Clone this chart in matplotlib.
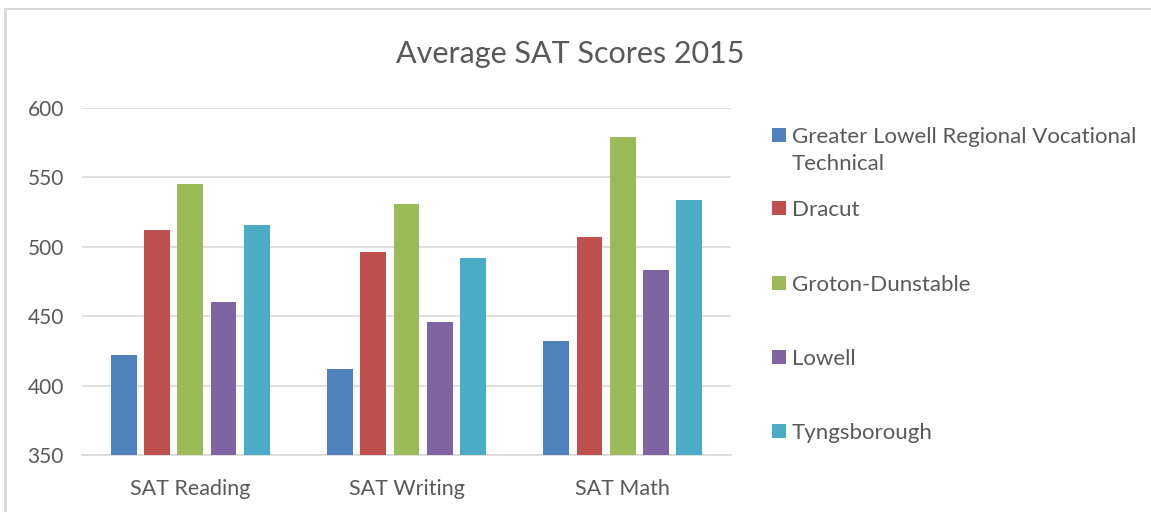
import matplotlib.pyplot as plt
import numpy as np
from matplotlib.lines import Line2D
from matplotlib.patches import Rectangle

plt.rcParams["font.family"] = ["Lato", "DejaVu Sans"]

subjects = ["SAT Reading", "SAT Writing", "SAT Math"]
schools = [
    "Greater Lowell Regional Vocational\nTechnical",
    "Dracut",
    "Groton-Dunstable",
    "Lowell",
    "Tyngsborough",
]
greater_lowell = [422, 412, 432]
dracut = [512, 496, 507]
groton_dunstable = [545, 531, 579]
lowell = [460, 446, 483]
tyngsborough = [516, 492, 534]

colors = ["#4F81BD", "#C0504D", "#9BBB59", "#8064A2", "#4BACC6"]
text_color = "#595959"
grid_color = "#D9D9D9"

series = [greater_lowell, dracut, groton_dunstable, lowell, tyngsborough]

W, H = 1151, 512
fig = plt.figure(figsize=(W / 100, H / 100), dpi=100)
ax = fig.add_axes([82 / W, 1 - 455 / H, (731 - 82) / W, (455 - 108) / H])

x = np.arange(len(subjects))
width = 0.12
step = 0.154
for i, (vals, color) in enumerate(zip(series, colors)):
    ax.bar(x + (i - 2) * step, vals, width=width, color=color, zorder=3)

ax.set_xlim(-0.5, 2.5)
ax.set_ylim(350, 600)
ax.set_yticks([350, 400, 450, 500, 550, 600])
ax.set_xticks(x)
ax.set_xticklabels(subjects)
ax.tick_params(axis="both", length=0, colors=text_color)
ax.tick_params(axis="y", pad=13, labelsize=15)
ax.tick_params(axis="x", pad=17, labelsize=15.5)
ax.yaxis.grid(True, color=grid_color, linewidth=1.2, zorder=0)
for side in ["top", "right", "left"]:
    ax.spines[side].set_visible(False)
ax.spines["bottom"].set_color(grid_color)
ax.spines["bottom"].set_linewidth(1.2)

fig.text(570 / W, 1 - 54 / H, "Average SAT Scores 2015", ha="center", va="center",
         fontsize=22, color=text_color)

# legend, handle aligned with first line of each label as in the original
legend_rows = [135, 208, 283, 357, 431]
for label, color, yc in zip(schools, colors, legend_rows):
    fig.patches.append(Rectangle((772 / W, 1 - (yc + 7) / H), 14 / W, 14 / H,
                                 transform=fig.transFigure, facecolor=color,
                                 edgecolor="none"))
    fig.text(792 / W, 1 - (yc - 8) / H, label, ha="left", va="top",
             fontsize=16, color=text_color, linespacing=1.45)

# chart frame (left and top edges only are visible)
fig.add_artist(Line2D([5 / W, 5 / W], [0, 1 - 9 / H], transform=fig.transFigure,
                      color=grid_color, linewidth=2))
fig.add_artist(Line2D([5 / W, 1], [1 - 9 / H, 1 - 9 / H], transform=fig.transFigure,
                      color=grid_color, linewidth=1.5))

fig.savefig("out.png", dpi=100)
